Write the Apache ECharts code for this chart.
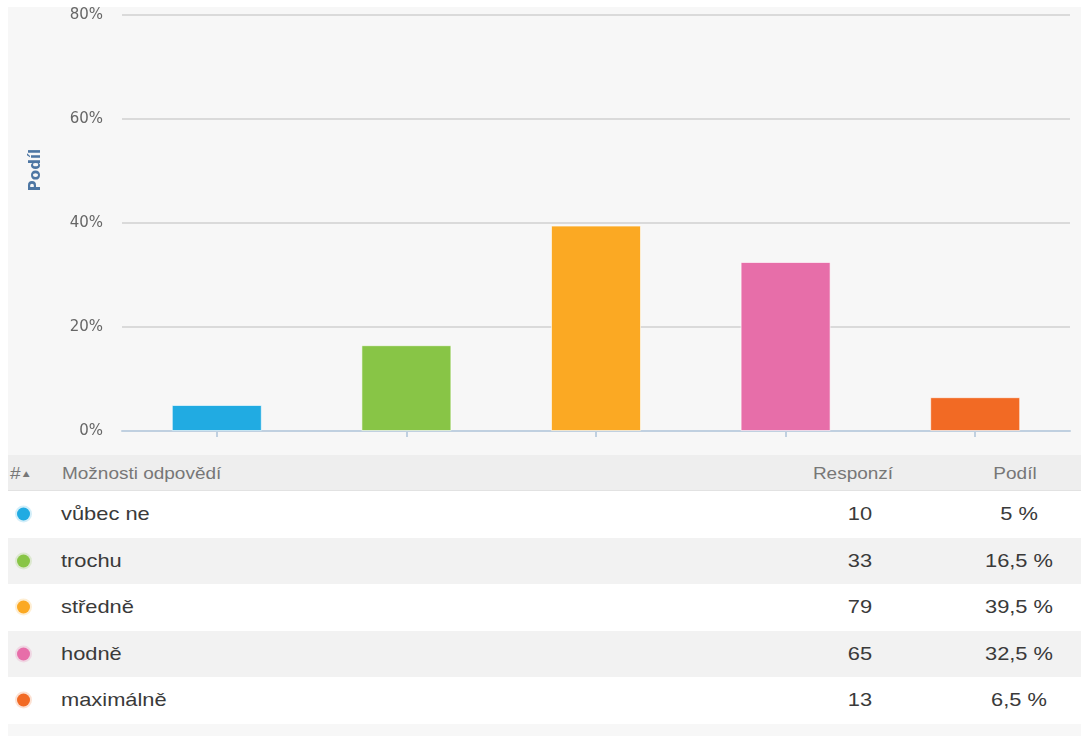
<!DOCTYPE html>
<html>
<head>
<meta charset="utf-8">
<script src="https://cdn.jsdelivr.net/npm/echarts@6/dist/echarts.min.js"></script>
<style>
  body { margin: 0; background: #fff; width: 1081px; height: 736px; overflow: hidden; position: relative; font-family: "Liberation Sans", Arial, sans-serif; }
  #chart { position: absolute; left: 8px; top: 7px; width: 1073px; height: 448px; background: #f7f7f7; }
  #table { position: absolute; left: 8px; top: 455px; width: 1073px; }
  .row { position: relative; height: 46.5px; }
  .row.head { height: 35px; background: #eeeeee; border-bottom: 1px solid #e2e2e2; color: #777; font-size: 16.5px; }
  .row span { position: absolute; top: 50%; white-space: nowrap; }
  .l { transform: translateY(-50%) scaleX(1.15); transform-origin: left center; }
  .c { transform: translate(-50%, -50%) scaleX(1.15); transform-origin: center center; }
  .dot { width: 13px; height: 13px; border-radius: 50%; left: 9px; transform: translateY(-50%); }
  .lbl { left: 53px; color: #3a3a3a; font-size: 19px; }
  .num { color: #3a3a3a; font-size: 19px; }
  .tail { height: 14px; background: #f7f7f7; }
</style>
</head>
<body>
<div id="chart"></div>
<div id="table"></div>
<script>
(function() {
  const categories = ['vůbec ne', 'trochu', 'středně', 'hodně', 'maximálně'];
  const responses = [10, 33, 79, 65, 13];
  const shares = [5, 16.5, 39.5, 32.5, 6.5];
  const colors = ['#21abe2', '#88c546', '#fba923', '#e76ea9', '#f26a24'];
  const yTicks = [0, 20, 40, 60, 80];

  const chart = echarts.init(document.getElementById('chart'));

  const option = {
    animation: false,
    grid: { left: 114, right: 11, top: 8, bottom: 24 },
    xAxis: {
      type: 'category',
      data: categories,
      axisLine: { lineStyle: { color: '#c0d0e0', width: 2 } },
      axisTick: { show: true, alignWithLabel: true, length: 6, lineStyle: { color: '#c0d0e0', width: 2 } },
      axisLabel: { show: false }
    },
    yAxis: {
      type: 'value',
      min: yTicks[0],
      max: yTicks[yTicks.length - 1],
      interval: 20,
      axisLabel: {
        formatter: '{value}%',
        color: '#666',
        fontSize: 15,
        fontFamily: 'DejaVu Sans',
        margin: 19
      },
      splitLine: { lineStyle: { color: '#d0d0d0', width: 1.5 } }
    },
    graphic: [{
      type: 'text',
      x: 28,
      y: 163,
      rotation: Math.PI / 2,
      style: {
        text: 'Podíl',
        fill: '#4d76a3',
        font: 'bold 15px "DejaVu Sans"',
        align: 'center',
        verticalAlign: 'middle'
      }
    }],
    series: [{
      type: 'bar',
      barWidth: 90,
      data: shares.map((v, i) => ({
        value: v,
        itemStyle: { color: colors[i], borderColor: 'rgba(255,255,255,0.6)', borderWidth: 1 }
      }))
    }]
  };
  chart.setOption(option);

  // table below the chart
  const table = document.getElementById('table');
  let html = '<div class="row head">' +
    '<span class="l" style="left:2px">#<span style="position:relative;font-size:10px;top:-2px">&#9650;</span></span>' +
    '<span class="l" style="left:54px">Možnosti odpovědí</span>' +
    '<span class="c" style="left:845px">Responzí</span>' +
    '<span class="c" style="left:1007px">Podíl</span></div>';
  categories.forEach((c, i) => {
    const bg = i % 2 ? '#f2f2f2' : '#ffffff';
    html += '<div class="row" style="background:' + bg + '">' +
      '<span class="dot" style="background:' + colors[i] + ';box-shadow:0 0 0 2px ' + colors[i] + '33"></span>' +
      '<span class="lbl l">' + c + '</span>' +
      '<span class="num c" style="left:852px">' + responses[i] + '</span>' +
      '<span class="num c" style="left:1011px">' + String(shares[i]).replace('.', ',') + ' %</span>' +
      '</div>';
  });
  html += '<div class="tail"></div>';
  table.innerHTML = html;

  window.addEventListener('resize', () => chart.resize());
})();
</script>
</body>
</html>
